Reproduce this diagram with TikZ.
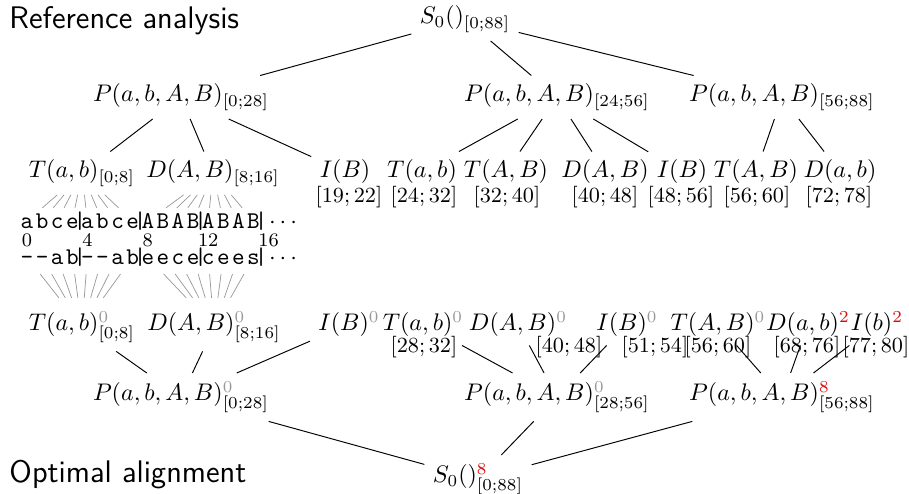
\documentclass[tikz,border=0pt]{standalone}
\usetikzlibrary{calc}

\definecolor{vermelho}{rgb}{0.85,0.05,0.05}
\definecolor{cinza}{gray}{0.6}
\newcommand{\zr}{^{\textcolor{cinza}{0}}}
\newcommand{\vm}[1]{^{\textcolor{vermelho}{#1}}}

\begin{document}
\begin{tikzpicture}[x=0.4167pt, y=-0.4167pt,
  termo/.style={anchor=base, inner sep=3.33pt},
  intervalo/.style={anchor=base, inner sep=1pt, font=\small},
  letra/.style={anchor=base, inner sep=0pt, font=\ttfamily, text height=1.5ex, text depth=0pt},
  leque/.style={cinza, line width=0.3pt},
  titulo/.style={anchor=base west, inner sep=0pt, font=\sffamily\fontsize{13}{15}\selectfont}]

\useasboundingbox (0,0) rectangle (909,494);

% Titulos
\node[titulo] (ra) at (9,29) {Reference analysis};
\node[titulo] (oa) at (9,483) {Optimal alignment};

% Arvore de cima
\node[termo] (S) at (465,24) {$S_0()_{[0;88]}$};
\node[termo] (Pa) at (181,102) {$P(a,b,A,B)_{[0;28]}$};
\node[termo] (Pb) at (557,102) {$P(a,b,A,B)_{[24;56]}$};
\node[termo] (Pc) at (782,102) {$P(a,b,A,B)_{[56;88]}$};

\foreach \n/\x/\t in {Ta/82/{T(a,b)_{[0;8]}}, Da/213/{D(A,B)_{[8;16]}}, Ia/345/{I(B)},
    Tb/422/{T(a,b)}, Tc/506/{T(A,B)}, Db/605/{D(A,B)}, Ib/682/{I(B)},
    Td/756/{T(A,B)}, Dc/840/{D(a,b)}}
  \node[termo] (\n) at (\x,178) {$\t$};

% Intervalos de cima
\foreach \x/\t [count=\k] in {349/{19;22}, 424/{24;32}, 507/{32;40}, 605/{40;48},
    681/{48;56}, 757/{56;60}, 839/{72;78}}
  \node[intervalo] (it\k) at (\x,203) {$[\t]$};

\foreach \a/\b in {S/Pa, S/Pb, S/Pc, Pa/Ta, Pa/Da, Pa/Ia,
    Pb/Tb, Pb/Tc, Pb/Db, Pb/Ib, Pc/Td, Pc/Dc}
  \draw (\a) -- (\b);

% Alinhamento
\foreach \c [count=\i from 0] in {a,b,c,e,a,b,c,e,A,B,A,B,A,B,A,B}
  \node[letra] (ct\i) at (27+15.1*\i,229) {\c};
\foreach \c [count=\i from 0] in {-,-,a,b,-,-,a,b,e,e,c,e,c,e,e,s}
  \node[letra] (cb\i) at (27+15.1*\i,265) {\c};
\foreach \k in {0,...,3} {
  \node[letra] (bt\k) at ({27+15.1*(4*\k+3.5)},229) {|};
  \node[letra] (bb\k) at ({27+15.1*(4*\k+3.5)},265) {|};
}
\node[anchor=base, inner sep=0pt] (dt) at (283,229) {$\cdots$};
\node[anchor=base, inner sep=0pt] (db) at (283,265) {$\cdots$};
\foreach \k in {0,4,...,16}
  \node[anchor=base, inner sep=0pt, font=\footnotesize] (n\k) at (27+15.1*\k,247) {\k};

% Leques
\foreach \i in {0,...,7} {
  \pgfmathtruncatemacro{\j}{\i+8}
  \draw[leque] ($(Ta)!0.45!(ct\i)$) -- ($(Ta)!0.72!(ct\i)$);
  \draw[leque] ($(Da)!0.45!(ct\j)$) -- ($(Da)!0.72!(ct\j)$);
}

% Arvore de baixo
\foreach \n/\x/\t in {Ta0/82/{T(a,b)\zr_{[0;8]}}, Da0/214/{D(A,B)\zr_{[8;16]}}, Ia0/349/{I(B)\zr},
    Tb0/423/{T(a,b)\zr}, Db0/518/{D(A,B)\zr}, Ib0/627/{I(B)\zr},
    Tc0/718/{T(A,B)\zr}, Dc0/808/{D(a,b)\vm{2}}, Ic0/877/{I(b)\vm{2}}}
  \node[termo] (\n) at (\x,331) {$\t$};

\foreach \x/\t [count=\k] in {424/{28;32}, 569/{40;48}, 655/{51;54}, 718/{56;60},
    807/{68;76}, 876/{77;80}}
  \node[intervalo] (ib\k) at (\x,353) {$[\t]$};

\node[termo] (Pa0) at (181,401) {$P(a,b,A,B)\zr_{[0;28]}$};
\node[termo] (Pb0) at (557,401) {$P(a,b,A,B)\zr_{[28;56]}$};
\node[termo] (Pc0) at (782,401) {$P(a,b,A,B)\vm{8}_{[56;88]}$};
\node[termo] (Sb) at (478,483) {$S_0()\vm{8}_{[0;88]}$};

\foreach \i in {0,...,7} {
  \pgfmathtruncatemacro{\j}{\i+8}
  \draw[leque] ($(Ta0)!0.42!(cb\i)$) -- ($(Ta0)!0.76!(cb\i)$);
  \draw[leque] ($(Da0)!0.42!(cb\j)$) -- ($(Da0)!0.76!(cb\j)$);
}

\foreach \a/\b in {Ta0/Pa0, Da0/Pa0, Ia0/Pa0, Tb0/Pb0, Db0/Pb0, Ib0/Pb0,
    Tc0/Pc0, Dc0/Pc0, Ic0/Pc0, Pa0/Sb, Pb0/Sb, Pc0/Sb}
  \draw (\a) -- (\b);

\end{tikzpicture}
\end{document}
